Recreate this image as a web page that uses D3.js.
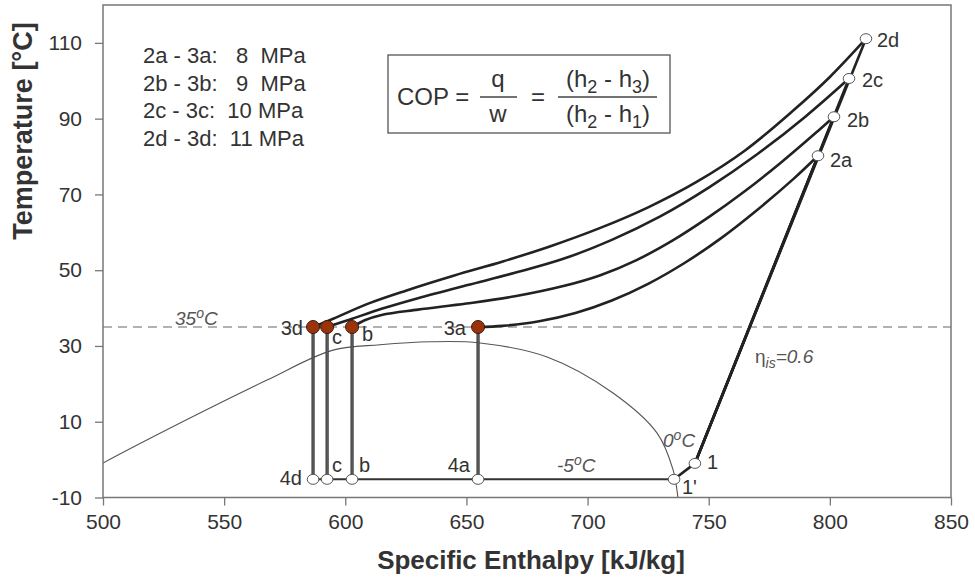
<!DOCTYPE html>
<html><head><meta charset="utf-8">
<script src="https://cdn.jsdelivr.net/npm/d3@7/dist/d3.min.js"></script>
<style>body{margin:0;background:#fff}svg{display:block;font-family:"Liberation Sans",Arial,sans-serif}</style>
</head><body><svg id="c" width="975" height="578"></svg>
<script>
// ---- data ----
const hTicks = [500,550,600,650,700,750,800,850];
const tTicks = [-10,10,30,50,70,90,110];
const pressureLabels = ["2a - 3a:   8  MPa","2b - 3b:   9  MPa","2c - 3c:  10 MPa","2d - 3d:  11 MPa"];
// saturation dome [h, T]
const dome = [[490,-4.5],[500,-0.9],[540,12.3],[567.7,21.0],[594.9,28.9],[614.3,30.3],[635,31.1],[655.6,30.8],[683.3,27.1],[710.5,17.6],[728.7,7.0],[735.3,-2.7],[737.3,-9.9],[737.8,-12]];
// gas cooler curves 3x -> 2x
const coolerA = [[654.8,35],[665,35.3],[680,36.5],[695,38.7],[710,42.0],[725,46.4],[740,51.9],[755,58.4],[770,65.9],[785,74.1],[795.1,80.2]];
const coolerB = [[602.8,35],[608,36.8],[615,38.2],[630,39.6],[650,41.2],[670,43.1],[690,45.8],[705,48.6],[720,52.6],[735,57.8],[750,64],[765,70.9],[780,78.5],[795,86.7],[801.7,90.5]];
const coolerC = [[592.5,35],[602,37],[615,39.8],[630,42.6],[650,46],[670,49.3],[690,53],[710,58],[730,64.2],[750,71.8],[770,80.6],[790,90.6],[807.9,100.6]];
const coolerD = [[586.7,35],[595,37.2],[610,41.3],[625,44.6],[645,48.6],[665,52.3],[685,56.4],[705,61.1],[725,66.6],[745,73.3],[765,81.6],[785,92.2],[800,101],[814.9,111.1]];
// state points
const p1 = [744.3,-1.0], p1p = [735.7,-5.2];
const p2 = {a:[795.1,80.2], b:[801.7,90.5], c:[807.9,100.6], d:[814.9,111.1]};
const p3 = {a:[654.8,35], b:[602.8,35], c:[592.5,35], d:[586.7,35]};
const p4 = {a:[654.8,-5.2], b:[602.8,-5.2], c:[592.5,-5.2], d:[586.7,-5.2]};
const gasCoolerTemp = 35;

// ---- chart ----
const svg = d3.select("#c");
const L=103, R=951, T0=5, B=497.5;
const x = d3.scaleLinear().domain([500,850]).range([L,R]);
const y = d3.scaleLinear().domain([-10,120]).range([B,T0]);

svg.append("defs").append("clipPath").attr("id","clip").append("rect")
  .attr("x",L).attr("y",T0).attr("width",R-L).attr("height",B-T0);

const g = svg.append("g").attr("clip-path","url(#clip)");

// 35C dashed line
g.append("line").attr("x1",L).attr("x2",R).attr("y1",y(gasCoolerTemp)).attr("y2",y(gasCoolerTemp))
  .attr("stroke","#666").attr("stroke-width",1.2).attr("stroke-dasharray","9,6");

// dome
const smooth = d3.line().x(d=>x(d[0])).y(d=>y(d[1])).curve(d3.curveCatmullRom.alpha(0.5));
g.append("path").attr("d",smooth(dome)).attr("fill","none").attr("stroke","#555").attr("stroke-width",1.1);

// coolers
[coolerA,coolerB,coolerC,coolerD].forEach(c=>{
  g.append("path").attr("d",smooth(c)).attr("fill","none").attr("stroke","#222").attr("stroke-width",2.6);
});
const straight = d3.line().x(d=>x(d[0])).y(d=>y(d[1]));
// compression lines
["a","b","c","d"].forEach(k=>{
  g.append("path").attr("d",straight([p1,p2[k]])).attr("fill","none").attr("stroke","#222").attr("stroke-width",2.6);
});
g.append("path").attr("d",straight([p1p,p1])).attr("fill","none").attr("stroke","#222").attr("stroke-width",2.6);
// evaporator
g.append("path").attr("d",straight([p4.d,p1p])).attr("fill","none").attr("stroke","#333").attr("stroke-width",2);
// expansion
["a","b","c","d"].forEach(k=>{
  g.append("path").attr("d",straight([p3[k],p4[k]])).attr("fill","none").attr("stroke","#333").attr("stroke-width",3.2);
  g.append("path").attr("d",straight([p3[k],p4[k]])).attr("fill","none").attr("stroke","#777").attr("stroke-width",1);
});

// markers
const open = [p1,p1p,p2.a,p2.b,p2.c,p2.d,p4.a,p4.b,p4.c,p4.d];
svg.selectAll(".op").data(open).join("ellipse").attr("cx",d=>x(d[0])).attr("cy",d=>y(d[1]))
  .attr("rx",5.8).attr("ry",5).attr("fill","#fff").attr("stroke","#555").attr("stroke-width",1);
svg.selectAll(".fp").data([p3.a,p3.b,p3.c,p3.d]).join("circle").attr("cx",d=>x(d[0])).attr("cy",d=>y(d[1]))
  .attr("r",6.5).attr("fill","#9b3308").attr("stroke","#3a1a10").attr("stroke-width",1);

// frame
svg.append("rect").attr("x",L).attr("y",T0).attr("width",R-L).attr("height",B-T0)
  .attr("fill","none").attr("stroke","#777").attr("stroke-width",1.5);

// axes
const xa = svg.append("g").attr("transform",`translate(0,${B})`)
  .call(d3.axisBottom(x).tickValues(hTicks).tickSize(8).tickPadding(9).tickFormat(d=>String(d)));
const ya = svg.append("g").attr("transform",`translate(${L},0)`)
  .call(d3.axisLeft(y).tickValues(tTicks).tickSize(8).tickPadding(13).tickFormat(d=>String(d)));
[xa,ya].forEach(a=>{
  a.attr("font-family",null).attr("font-size",null);
  a.select(".domain").remove();
  a.selectAll("line").attr("stroke","#777").attr("stroke-width",1.3);
  a.selectAll("text").attr("fill","#333").style("font-size","21px");
});

svg.append("text").attr("x",531).attr("y",569).attr("text-anchor","middle")
  .style("font-size","26px").style("font-weight","bold").attr("fill","#333").text("Specific Enthalpy [kJ/kg]");
svg.append("text").attr("transform","translate(32,131) rotate(-90)").attr("text-anchor","middle")
  .style("font-size","27px").style("font-weight","bold").attr("fill","#333").text("Temperature [°C]");

// legend
const lg = svg.append("g").style("font-size","22px").attr("fill","#333");
pressureLabels.forEach((t,i)=>{
  lg.append("text").attr("x",143).attr("y",63+i*27.6).attr("xml:space","preserve").style("white-space","pre").text(t);
});

// COP box
const cop = svg.append("g").attr("fill","#333").style("font-size","24px");
cop.append("rect").attr("x",388).attr("y",55).attr("width",282).attr("height",78).attr("fill","#fff").attr("stroke","#555").attr("stroke-width",1.3);
cop.append("text").attr("x",397).attr("y",105).text("COP =");
cop.append("text").attr("x",498).attr("y",87).attr("text-anchor","middle").text("q");
cop.append("line").attr("x1",480).attr("x2",517).attr("y1",97).attr("y2",97).attr("stroke","#444").attr("stroke-width",1.3);
cop.append("text").attr("x",498).attr("y",122).attr("text-anchor","middle").text("w");
cop.append("text").attr("x",538).attr("y",105).attr("text-anchor","middle").text("=");
function frac(yb, sub){
  const t = cop.append("text").attr("x",608).attr("y",yb).attr("text-anchor","middle").attr("xml:space","preserve").style("white-space","pre");
  t.append("tspan").text("(h");
  t.append("tspan").attr("dy",6).style("font-size","18px").text("2");
  t.append("tspan").attr("dy",-6).text(" - h");
  t.append("tspan").attr("dy",6).style("font-size","18px").text(sub);
  t.append("tspan").attr("dy",-6).text(")");
}
frac(87,"3"); frac(122,"1");
cop.append("line").attr("x1",558).attr("x2",657).attr("y1",97).attr("y2",97).attr("stroke","#444").attr("stroke-width",1.3);

// point labels
const lab = svg.append("g").style("font-size","20px").attr("fill","#333");
function L2(px,py,t,anchor){ lab.append("text").attr("x",px).attr("y",py).attr("text-anchor",anchor||"start").text(t); }
L2(877,47,"2d");
L2(862,87,"2c");
L2(847,127,"2b");
L2(830,167,"2a");
L2(707,469,"1");
L2(682,494,"1'");
L2(466,335,"3a","end");
L2(303,335,"3d","end");
L2(332,344,"c");
L2(362,341,"b");
L2(470,472,"4a","end");
L2(302,485,"4d","end");
L2(332,472,"c");
L2(359,472,"b");

// italic annotations
const it = svg.append("g").style("font-size","19px").style("font-style","italic").attr("fill","#555");
function degLabel(px,py,num){
  const t = it.append("text").attr("x",px).attr("y",py);
  t.append("tspan").text(num);
  t.append("tspan").attr("dy",-7).style("font-size","14px").text("o");
  t.append("tspan").attr("dy",7).text("C");
}
degLabel(175,325,"35");
degLabel(557,472,"-5");
degLabel(663,447,"0");
const eta = it.append("text").attr("x",755).attr("y",363);
eta.append("tspan").style("font-style","normal").text("η");
eta.append("tspan").attr("dy",5).style("font-size","14px").text("is");
eta.append("tspan").attr("dy",-5).text("=0.6");
</script></body></html>
